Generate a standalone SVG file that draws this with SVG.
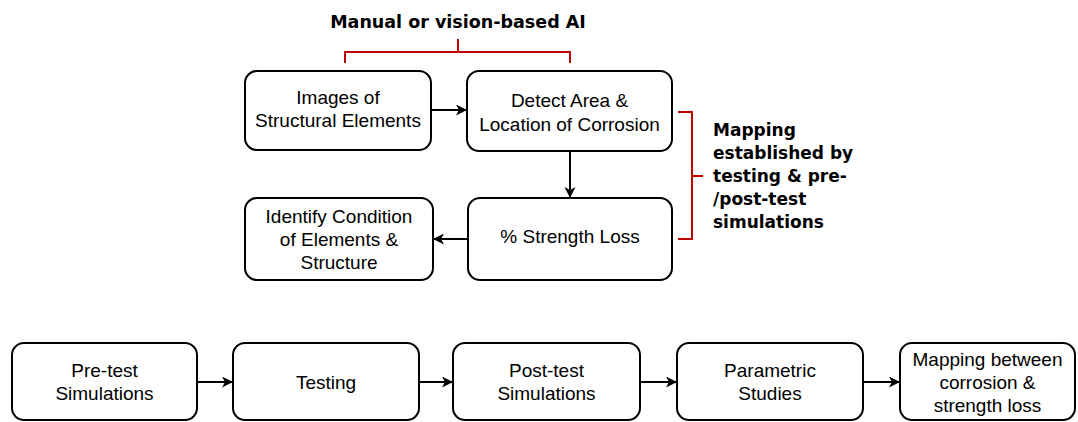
<svg xmlns="http://www.w3.org/2000/svg" width="1078" height="422" viewBox="0 0 1078 422">
<defs>
<style>
.box{fill:#fff;stroke:#000;stroke-width:2}
.t{font-family:"Liberation Sans",Arial,sans-serif;font-size:19px;fill:#000;text-anchor:middle}
.b{font-family:"DejaVu Sans",Verdana,sans-serif;font-weight:bold;font-size:17px;fill:#000}
.c{fill:none;stroke:#000;stroke-width:2}
.br{fill:none;stroke:#C00000;stroke-width:2}
</style>
<marker id="ah" markerWidth="12" markerHeight="12" refX="10" refY="5.5" orient="auto" markerUnits="userSpaceOnUse">
<path d="M0,0 L11,5.5 L0,11 L3,5.5 z" fill="#000"/>
</marker>
</defs>
<rect width="1078" height="422" fill="#fff"/>
<g id="labels">
<text class="b" x="458" y="28" text-anchor="middle" style="font-size:17.5px">Manual or vision-based AI</text>
<text class="b" x="713" y="135.5">Mapping</text>
<text class="b" x="713" y="158.5">established by</text>
<text class="b" x="713" y="181.5">testing &amp; pre-</text>
<text class="b" x="713" y="204.5">/post-test</text>
<text class="b" x="713" y="227.5">simulations</text>
</g>
<g id="brackets">
<path class="br" d="M345,63 V52 H570 V63 M458,52 V39"/>
<path class="br" d="M678,112 H692 V239 H678 M692,176 H703"/>
</g>
<g id="n1"><rect class="box" x="245" y="71" width="186" height="79" rx="12"/><text class="t" x="338" y="104">Images of</text><text class="t" x="338" y="127">Structural Elements</text></g>
<g id="n2"><rect class="box" x="467" y="71" width="205" height="80" rx="12"/><text class="t" x="569.5" y="107">Detect Area &amp;</text><text class="t" x="569.5" y="131">Location of Corrosion</text></g>
<g id="n3"><rect class="box" x="468" y="198" width="204" height="82" rx="12"/><text class="t" x="570" y="243">% Strength Loss</text></g>
<g id="n4"><rect class="box" x="245" y="198" width="188" height="82" rx="12"/><text class="t" x="339" y="223">Identify Condition</text><text class="t" x="339" y="246">of Elements &amp;</text><text class="t" x="339" y="269">Structure</text></g>
<g id="b1"><rect class="box" x="12" y="343" width="185" height="77" rx="12"/><text class="t" x="104.5" y="377">Pre-test</text><text class="t" x="104.5" y="400">Simulations</text></g>
<g id="b2"><rect class="box" x="233" y="343" width="186" height="77" rx="12"/><text class="t" x="326" y="389">Testing</text></g>
<g id="b3"><rect class="box" x="453" y="343" width="187" height="77" rx="12"/><text class="t" x="546.5" y="377">Post-test</text><text class="t" x="546.5" y="400">Simulations</text></g>
<g id="b4"><rect class="box" x="677" y="343" width="186" height="77" rx="12"/><text class="t" x="770" y="377">Parametric</text><text class="t" x="770" y="400">Studies</text></g>
<g id="b5"><rect class="box" x="900" y="343" width="175" height="77" rx="12"/><text class="t" x="987.5" y="366">Mapping between</text><text class="t" x="987.5" y="389">corrosion &amp;</text><text class="t" x="987.5" y="412">strength loss</text></g>
<g id="connectors">
<line class="c" x1="431" y1="110" x2="466" y2="110" marker-end="url(#ah)"/>
<line class="c" x1="570" y1="151" x2="570" y2="197" marker-end="url(#ah)"/>
<line class="c" x1="468" y1="239" x2="434" y2="239" marker-end="url(#ah)"/>
<line class="c" x1="197" y1="382" x2="232" y2="382" marker-end="url(#ah)"/>
<line class="c" x1="419" y1="382" x2="452" y2="382" marker-end="url(#ah)"/>
<line class="c" x1="640" y1="382" x2="676" y2="382" marker-end="url(#ah)"/>
<line class="c" x1="863" y1="382" x2="899" y2="382" marker-end="url(#ah)"/>
</g>
</svg>
